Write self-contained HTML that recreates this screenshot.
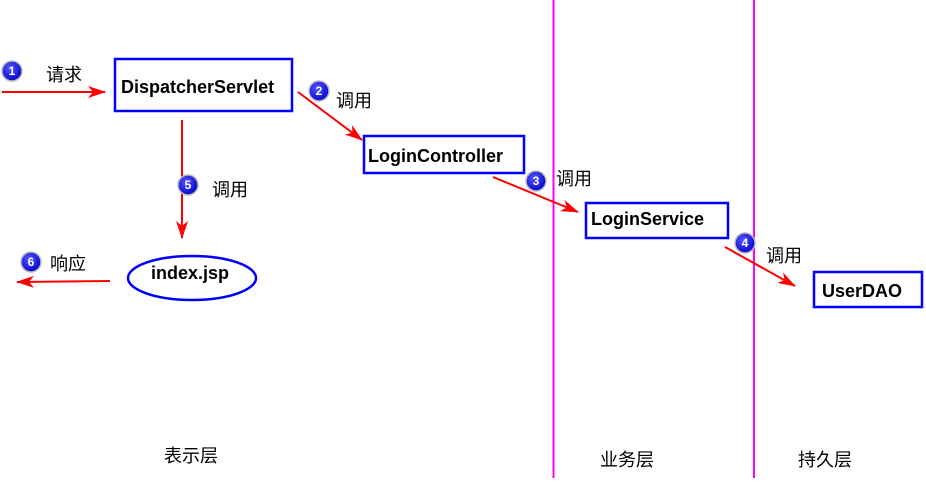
<!DOCTYPE html>
<html><head><meta charset="utf-8"><style>
body{margin:0;width:926px;height:478px;background:#fff;overflow:hidden}
svg text{font-family:"Liberation Sans","Noto Sans CJK SC",sans-serif}
.b{font-weight:bold;font-size:18px}
.c{font-size:18px}
.n{font-size:12px;font-weight:bold;fill:#fff}
</style></head><body>
<svg width="926" height="478" xmlns="http://www.w3.org/2000/svg">
<defs>
<marker id="a" markerWidth="18" markerHeight="12" refX="17" refY="6" orient="auto" markerUnits="userSpaceOnUse"><path d="M0,0 L18,6 L0,12 L5,6z" fill="#f00"/></marker>
<radialGradient id="g" cx="40%" cy="35%" r="70%"><stop offset="0" stop-color="#55f"/><stop offset="1" stop-color="#00c"/></radialGradient>
</defs>
<line x1="553.5" y1="0" x2="553.5" y2="478" stroke="#f0f" stroke-width="2"/>
<line x1="754" y1="0" x2="754" y2="478" stroke="#f0f" stroke-width="2"/>
<g stroke="#00f" stroke-width="2.5" fill="none">
<rect x="115" y="59" width="177" height="52"/>
<rect x="364" y="136" width="160" height="37"/>
<rect x="586" y="203" width="142" height="35"/>
<rect x="814" y="272" width="108" height="35"/>
<ellipse cx="192" cy="278" rx="64" ry="22"/>
</g>
<text class="b" x="121" y="93">DispatcherServlet</text>
<text class="b" x="368" y="162">LoginController</text>
<text class="b" x="591" y="225">LoginService</text>
<text class="b" x="822" y="297">UserDAO</text>
<text class="b" x="151" y="279">index.jsp</text>
<g stroke="#f00" stroke-width="2" marker-end="url(#a)">
<line x1="2" y1="92" x2="105" y2="92"/>
<line x1="298" y1="92" x2="362" y2="140"/>
<line x1="182" y1="120" x2="182" y2="238"/>
<line x1="110" y1="281" x2="17" y2="282"/>
<line x1="493" y1="177" x2="578" y2="212"/>
<line x1="725" y1="247" x2="795" y2="286"/>
</g>
<g>
<circle cx="12" cy="71" r="10" fill="url(#g)" stroke="#bbb" stroke-width="1.5"/><text class="n" x="12" y="75" text-anchor="middle">1</text>
<circle cx="319" cy="91" r="10" fill="url(#g)" stroke="#bbb" stroke-width="1.5"/><text class="n" x="319" y="95" text-anchor="middle">2</text>
<circle cx="188" cy="185" r="10" fill="url(#g)" stroke="#bbb" stroke-width="1.5"/><text class="n" x="188" y="189" text-anchor="middle">5</text>
<circle cx="31" cy="262" r="10" fill="url(#g)" stroke="#bbb" stroke-width="1.5"/><text class="n" x="31" y="266" text-anchor="middle">6</text>
<circle cx="536" cy="181" r="10" fill="url(#g)" stroke="#bbb" stroke-width="1.5"/><text class="n" x="536" y="185" text-anchor="middle">3</text>
<circle cx="745" cy="243" r="10" fill="url(#g)" stroke="#bbb" stroke-width="1.5"/><text class="n" x="745" y="247" text-anchor="middle">4</text>
</g>
<text class="c" x="46" y="81">请求</text>
<text class="c" x="336" y="107">调用</text>
<text class="c" x="212" y="196">调用</text>
<text class="c" x="50" y="270">响应</text>
<text class="c" x="556" y="185">调用</text>
<text class="c" x="766" y="262">调用</text>
<text class="c" x="164" y="462">表示层</text>
<text class="c" x="600" y="466">业务层</text>
<text class="c" x="798" y="466">持久层</text>
</svg>
</body></html>
